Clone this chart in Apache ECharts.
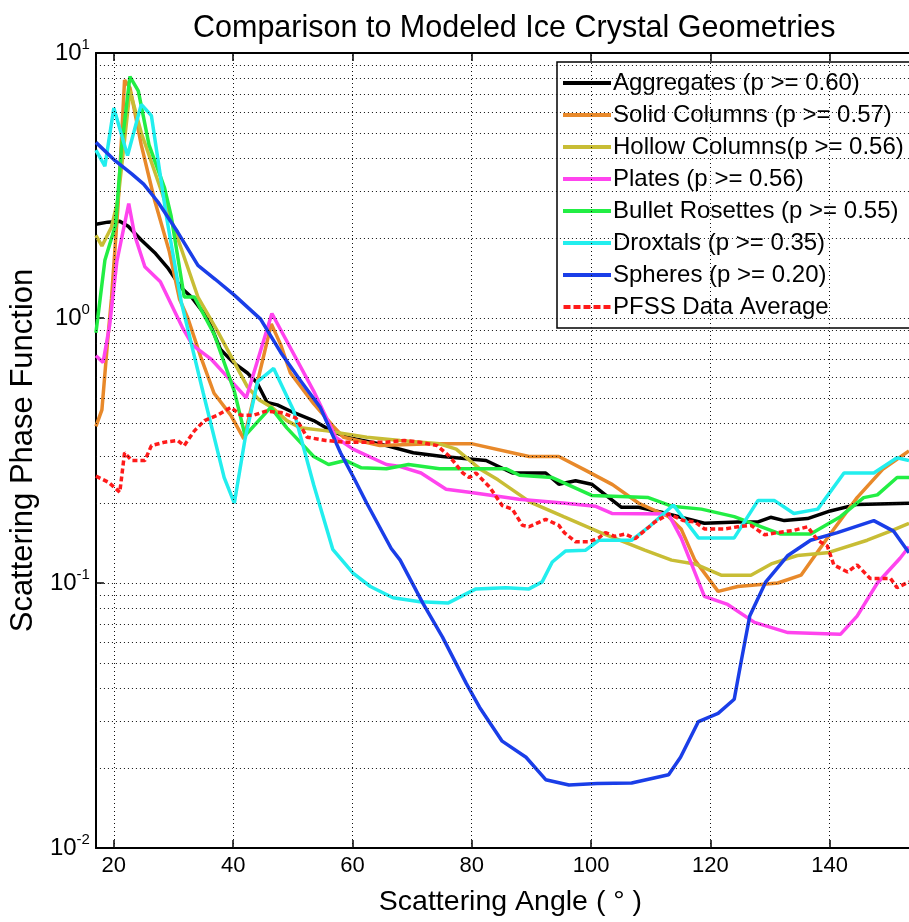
<!DOCTYPE html>
<html>
<head>
<meta charset="utf-8">
<script src="https://cdn.jsdelivr.net/npm/echarts@6/dist/echarts.min.js"></script>
<style>
html,body{margin:0;padding:0;background:#fff;}
#chart{width:909px;height:922px;}
</style>
</head>
<body>
<div id="chart"></div>
<script>
// ---- data (scattering angle in degrees, phase function values) ----
const aggX = [17, 19, 21, 22.4, 24.6, 27, 29, 31.3, 33, 35.7, 37.9, 40, 42.4, 44, 45.7, 47.4, 50.1, 53.5, 56, 59, 64.6, 70.2, 75.1, 82.4, 86.8, 92.4, 94.6, 97.4, 100.1, 105.1, 108, 111.8, 119, 124.6, 128, 130.1, 132.4, 136.3, 140.1, 144.6, 153.3];
const aggY = [2.26, 2.3, 2.32, 2.22, 1.97, 1.75, 1.55, 1.3, 1.2, 1.0, 0.76, 0.68, 0.62, 0.57, 0.48, 0.47, 0.44, 0.41, 0.38, 0.355, 0.335, 0.31, 0.3, 0.29, 0.26, 0.26, 0.236, 0.243, 0.236, 0.193, 0.193, 0.185, 0.168, 0.17, 0.17, 0.177, 0.172, 0.175, 0.187, 0.198, 0.2];

const solX = [17, 18, 19, 19.6, 20.7, 21.8, 22.7, 24.6, 26.8, 29.3, 31, 32.4, 34.6, 36.8, 39.6, 41.8, 46.4, 48, 49.6, 53.5, 56.8, 58.5, 64.6, 73.4, 80.1, 89.6, 94.6, 99.1, 103.6, 108, 113, 115.1, 117.4, 121.3, 124.6, 131.3, 135.2, 140.1, 144.6, 149, 153.3];
const solY = [0.39, 0.45, 0.84, 1.18, 2.65, 7.9, 7.4, 4.5, 2.8, 1.78, 1.18, 1.0, 0.71, 0.52, 0.43, 0.35, 0.95, 0.79, 0.62, 0.475, 0.39, 0.355, 0.33, 0.335, 0.335, 0.3, 0.3, 0.266, 0.235, 0.2, 0.178, 0.16, 0.122, 0.093, 0.097, 0.1, 0.107, 0.153, 0.21, 0.27, 0.315];

const holX = [17, 18, 19.6, 20.7, 22.7, 24.6, 34.1, 37.4, 42.4, 44.4, 46.5, 49, 51.3, 55.7, 62.4, 68, 74.6, 77.4, 81.3, 84.4, 89.8, 95.4, 101.3, 109, 113.5, 117.4, 121.8, 126.8, 130.2, 134.6, 139.6, 146.3, 150.2, 153.3];
const holY = [2.05, 1.87, 2.2, 2.8, 7.2, 5.0, 1.2, 0.89, 0.55, 0.49, 0.46, 0.41, 0.385, 0.375, 0.355, 0.345, 0.335, 0.32, 0.27, 0.245, 0.202, 0.178, 0.156, 0.133, 0.122, 0.118, 0.107, 0.107, 0.118, 0.127, 0.13, 0.145, 0.157, 0.168];

const plaX = [17, 18.2, 19.3, 20.5, 22.5, 23.5, 25.2, 27.8, 31.5, 33.2, 36.3, 39.6, 42.2, 46.5, 53.5, 57.2, 60.1, 65.7, 68, 71.5, 75.7, 79.6, 87.9, 95.7, 100.7, 103.5, 113, 115.1, 119, 122.9, 127.4, 133, 141.8, 144.6, 148, 151.8, 153.3];
const plaY = [0.72, 0.68, 0.94, 1.63, 2.7, 2.05, 1.56, 1.37, 0.92, 0.79, 0.7, 0.58, 0.5, 1.04, 0.53, 0.355, 0.32, 0.28, 0.275, 0.26, 0.226, 0.22, 0.207, 0.2, 0.195, 0.183, 0.182, 0.148, 0.089, 0.083, 0.071, 0.065, 0.064, 0.075, 0.1, 0.124, 0.137];

const bulX = [17, 17.7, 18.5, 20.3, 21.3, 22.7, 24.1, 25.9, 28.5, 29.6, 31.8, 33.5, 36.8, 40.2, 42, 46.3, 49, 53.5, 56, 58.8, 61.5, 65.7, 69.4, 74.6, 85.7, 88, 93.5, 100.1, 109.6, 113.5, 118.5, 124, 131.8, 136.8, 141.8, 145.7, 148, 151.3, 153.3];
const bulY = [0.88, 1.18, 1.65, 2.25, 4.4, 8.15, 7.2, 4.5, 3.1, 2.43, 1.2, 1.2, 0.87, 0.53, 0.36, 0.46, 0.385, 0.3, 0.28, 0.29, 0.272, 0.27, 0.28, 0.27, 0.27, 0.255, 0.25, 0.214, 0.21, 0.195, 0.19, 0.178, 0.153, 0.153, 0.178, 0.21, 0.215, 0.25, 0.25];

const droX = [17, 18.5, 20, 22.3, 24.6, 26.3, 28.8, 31.3, 35, 38.5, 40.2, 42, 44.1, 46.8, 50.1, 53.5, 56.7, 60.1, 63, 66.8, 71.3, 76, 80.7, 85.7, 89.6, 91.8, 93.5, 95.7, 99.1, 101.3, 106.8, 109.6, 113.8, 118, 124, 128, 130.7, 134, 138, 142.4, 147.4, 151.3, 153.3];
const droY = [4.3, 3.74, 6.2, 4.1, 6.4, 5.8, 2.43, 1.15, 0.52, 0.25, 0.2, 0.35, 0.575, 0.645, 0.45, 0.235, 0.134, 0.109, 0.097, 0.088, 0.085, 0.084, 0.095, 0.096, 0.095, 0.101, 0.12, 0.132, 0.133, 0.145, 0.145, 0.162, 0.197, 0.148, 0.148, 0.205, 0.205, 0.183, 0.19, 0.26, 0.26, 0.297, 0.29];

const sphX = [17, 20, 23, 25, 27.4, 30.7, 34.1, 37, 40.2, 44.6, 48, 51.3, 54.6, 58, 60.2, 62.4, 66.5, 68, 71.8, 75.1, 79.1, 81.3, 85.1, 89.1, 92.4, 96.3, 101, 106.8, 113, 115, 118, 121.3, 124, 125.1, 126.6, 129.3, 133, 136.8, 141.3, 147.4, 150.7, 153.3];
const sphY = [4.6, 3.96, 3.5, 3.2, 2.74, 2.11, 1.58, 1.4, 1.22, 0.99, 0.74, 0.58, 0.46, 0.31, 0.25, 0.2, 0.135, 0.122, 0.084, 0.0625, 0.0417, 0.034, 0.0253, 0.022, 0.0181, 0.0173, 0.0175, 0.0176, 0.0189, 0.022, 0.030, 0.0322, 0.0364, 0.0497, 0.075, 0.101, 0.127, 0.145, 0.155, 0.172, 0.157, 0.13];

const pfsX = [17, 19.1, 21, 21.8, 23, 25.2, 26.3, 28.5, 30.7, 31.8, 33.5, 35.2, 37.4, 39.6, 41.3, 43.5, 45.5, 48, 50.5, 52.4, 55.5, 58.5, 62.4, 65.7, 68.7, 71.3, 74.2, 76.3, 78.5, 79.6, 80.7, 83, 85.1, 86.8, 88.5, 89.6, 92.4, 94.6, 95.5, 97.4, 99.6, 101.3, 102.4, 104, 105.7, 107.4, 110.7, 113, 115.5, 117.4, 119, 122.4, 124.6, 126.8, 129.1, 131.3, 134, 136.3, 138, 139.6, 140.7, 143, 144.6, 146.8, 150.2, 151.3, 153.3];
const pfsY = [0.253, 0.24, 0.22, 0.31, 0.29, 0.29, 0.33, 0.34, 0.345, 0.33, 0.375, 0.41, 0.43, 0.46, 0.43, 0.43, 0.445, 0.44, 0.42, 0.355, 0.345, 0.34, 0.34, 0.34, 0.345, 0.34, 0.33, 0.3, 0.26, 0.25, 0.26, 0.23, 0.196, 0.19, 0.165, 0.163, 0.174, 0.165, 0.155, 0.143, 0.143, 0.148, 0.155, 0.15, 0.153, 0.147, 0.17, 0.182, 0.172, 0.17, 0.16, 0.16, 0.163, 0.165, 0.152, 0.155, 0.158, 0.163, 0.145, 0.138, 0.117, 0.11, 0.117, 0.104, 0.104, 0.096, 0.101];

const seriesNames = ['Aggregates (p >= 0.60)', 'Solid Columns (p >= 0.57)', 'Hollow Columns(p >= 0.56)', 'Plates (p >= 0.56)', 'Bullet Rosettes (p >= 0.55)', 'Droxtals (p >= 0.35)', 'Spheres (p >= 0.20)', 'PFSS Data Average'];

// axis tick / grid values
const xTicks = [20, 40, 60, 80, 100, 120, 140];
const yGridValues = [0.02, 0.03, 0.04, 0.05, 0.06, 0.07, 0.08, 0.09, 0.1, 0.2, 0.3, 0.4, 0.5, 0.6, 0.7, 0.8, 0.9, 1, 2, 3, 4, 5, 6, 7, 8, 9];

// ---- build ----
function zip(xs, ys) {
  const n = Math.min(xs.length, ys.length);
  const out = [];
  for (let i = 0; i < n; i++) out.push([xs[i], ys[i]]);
  return out;
}
const FONT = "'Liberation Sans', Arial, Helvetica, sans-serif";
const colors = ['#000000', '#e8892a', '#c8bd35', '#ff44ee', '#22ee44', '#22eeee', '#1a3ee8', '#ff1a1a'];
const sets = [[aggX, aggY], [solX, solY], [holX, holY], [plaX, plaY], [bulX, bulY], [droX, droY], [sphX, sphY], [pfsX, pfsY]];
const DASH_ICON = 'path://M0,0h7v4h-7z M10,0h7v4h-7z M20,0h7v4h-7z M30,0h7v4h-7z M40,0h7v4h-7z';

const series = [{
  type: 'line',
  name: 'gridlines',
  data: [],
  silent: true,
  z: 1,
  markLine: {
    silent: true,
    symbol: ['none', 'none'],
    animation: false,
    label: { show: false },
    lineStyle: { type: [1, 3], color: '#111', width: 1 },
    emphasis: { disabled: true },
    data: yGridValues.map(v => ({ yAxis: v })).concat(xTicks.map(v => ({ xAxis: v })))
  }
}];
sets.forEach((s, i) => {
  const isPfss = i === 7;
  series.push({
    type: 'line',
    name: seriesNames[i],
    data: zip(s[0], s[1]),
    showSymbol: false,
    symbol: 'none',
    z: isPfss ? 4 : 3,
    lineStyle: {
      color: colors[i],
      width: 3.5,
      type: isPfss ? [5, 3] : 'solid'
    },
    itemStyle: { color: colors[i], borderWidth: 0 },
    emphasis: { disabled: true }
  });
});

const chart = echarts.init(document.getElementById('chart'), null, { renderer: 'canvas' });
chart.setOption({
  animation: false,
  backgroundColor: '#fff',
  title: {
    text: 'Comparison to Modeled Ice Crystal Geometries',
    left: 188,
    top: 8,
    textStyle: { fontFamily: FONT, fontSize: 30.5, fontWeight: 'normal', color: '#000' }
  },
  legend: {
    data: seriesNames.map((n, i) => ({ name: n, icon: i === 7 ? DASH_ICON : 'rect' })),
    orient: 'vertical',
    left: 557,
    top: 62,
    itemWidth: 48,
    itemHeight: 4,
    itemGap: 8,
    padding: [9, 30, 9, 6],
    backgroundColor: '#fff',
    borderColor: '#000',
    borderWidth: 1.5,
    borderRadius: 0,
    selectedMode: false,
    itemStyle: { borderWidth: 0 },
    textStyle: { fontFamily: FONT, fontSize: 24, color: '#000', padding: [0, 0, 0, -3] }
  },
  grid: { left: 94, right: -3, top: 53, bottom: 70, containLabel: false },
  xAxis: [{
    type: 'value',
    min: 17,
    max: 153.3,
    position: 'bottom',
    name: 'Scattering Angle ( ° )',
    nameLocation: 'middle',
    nameGap: 40,
    nameTextStyle: { fontFamily: FONT, fontSize: 28.5, color: '#000', padding: [0, 0, 0, 16] },
    axisLine: { show: true, onZero: false, lineStyle: { color: '#000', width: 2 } },
    axisTick: { show: true, inside: true, length: 8, customValues: xTicks, lineStyle: { color: '#000', width: 1.5 } },
    axisLabel: { show: true, customValues: xTicks, margin: 7, fontFamily: FONT, fontSize: 22, color: '#000' },
    splitLine: { show: false }
  }, {
    type: 'value',
    min: 17,
    max: 153.3,
    position: 'top',
    axisLine: { show: true, onZero: false, lineStyle: { color: '#000', width: 2 } },
    axisTick: { show: true, inside: true, length: 8, customValues: xTicks, lineStyle: { color: '#000', width: 1.5 } },
    axisLabel: { show: false },
    splitLine: { show: false }
  }],
  yAxis: {
    type: 'log',
    logBase: 10,
    min: 0.01,
    max: 10,
    name: 'Scattering Phase Function',
    nameLocation: 'middle',
    nameGap: 56,
    nameRotate: 90,
    nameTextStyle: { fontFamily: FONT, fontSize: 31, color: '#000' },
    axisLine: { show: true, onZero: false, lineStyle: { color: '#000', width: 2 } },
    axisTick: { show: true, inside: true, length: 8, lineStyle: { color: '#000', width: 1.5 } },
    axisLabel: {
      margin: 6,
      color: '#000',
      formatter: function (v) {
        const e = Math.round(Math.log10(v));
        return '{b|10}{s|' + e + '}';
      },
      rich: {
        b: { fontFamily: FONT, fontSize: 24, color: '#000' },
        s: { fontFamily: FONT, fontSize: 15, color: '#000', padding: [0, 0, 16, 0] }
      }
    },
    splitLine: { show: false }
  },
  series: series
});
</script>
</body>
</html>
